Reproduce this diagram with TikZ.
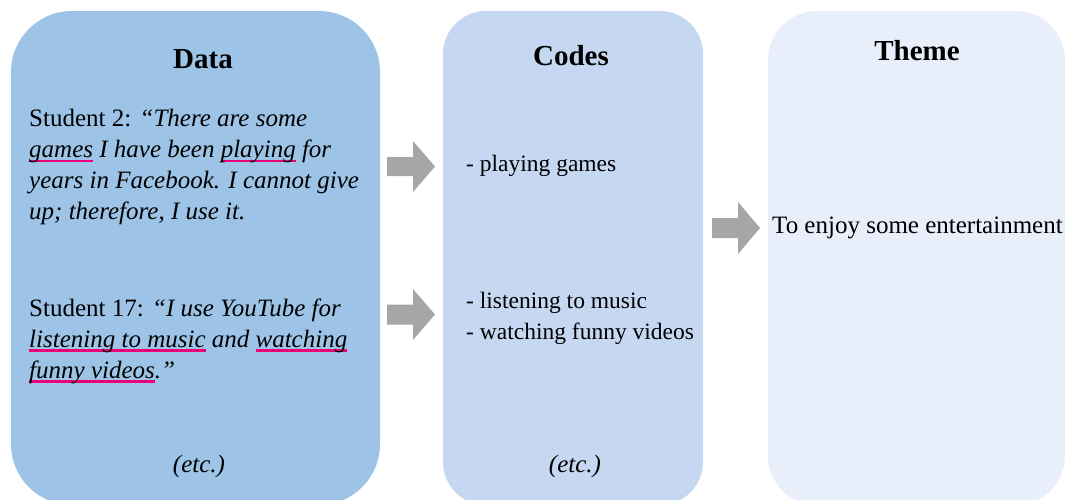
\documentclass[tikz,border=0pt]{standalone}
\usepackage{fontspec}
\setmainfont{Liberation Serif}
\definecolor{databox}{RGB}{157,195,230}
\definecolor{codebox}{RGB}{197,215,241}
\definecolor{themebox}{RGB}{232,239,250}
\definecolor{arrowgray}{RGB}{166,166,166}
\definecolor{ulpink}{RGB}{236,0,120}
\newsavebox\pinkulbox
\newcommand\pinkul[1]{\sbox\pinkulbox{#1}\rlap{\textcolor{ulpink}{\rule[-4.6pt]{\wd\pinkulbox}{2.2pt}}}\usebox\pinkulbox}
\begin{document}
\begin{tikzpicture}[x=1pt,y=-1pt,
  panel/.style={draw=none, rectangle, inner sep=0pt, minimum height=494pt},
  title/.style={font=\fontsize{29}{34}\selectfont\bfseries, anchor=base, inner sep=0pt},
  body/.style={font=\fontsize{25}{31}\selectfont, anchor=base west, inner sep=0pt},
  codetxt/.style={font=\fontsize{23.5}{31}\selectfont, anchor=base west, inner sep=0pt},
  etc/.style={font=\fontsize{25}{31}\selectfont\itshape, anchor=base, inner sep=0pt},
  blockarrow/.style={fill=arrowgray, draw=none}]
\useasboundingbox (0,0) rectangle (1065,499);
\clip (0,0) rectangle (1065,499);
% panels
\node[panel, fill=databox, minimum width=369pt, rounded corners=61pt] (data) at (195.5,258) {};
\node[panel, fill=codebox, minimum width=260pt, rounded corners=43pt] (codes) at (573,258) {};
\node[panel, fill=themebox, minimum width=297pt, rounded corners=49pt] (theme) at (916.5,258) {};
% titles
\node[title] (tdata) at (203,68) {Data};
\node[title] (tcodes) at (571,65) {Codes};
\node[title] (ttheme) at (917,60) {Theme};
% data text
\node[body] (d1) at (29,126.5) {Student 2: \textit{“There are some}};
\node[body] (d2) at (29,157.5) {\textit{\pinkul{games} I have been \pinkul{playing} for}};
\node[body] (d3) at (29,188.5) {\textit{years in Facebook. I cannot give}};
\node[body] (d4) at (29,219.5) {\textit{up; therefore, I use it.}};
\node[body] (d5) at (29,316) {Student 17: \textit{“I use YouTube for}};
\node[body] (d6) at (29,347) {\textit{\pinkul{listening to music} and \pinkul{watching}}};
\node[body] (d7) at (29,378) {\textit{\pinkul{funny videos}.”}};
\node[etc] (detc) at (199,472) {(etc.)};
% codes text
\node[codetxt] (c1) at (466,171) {- playing games};
\node[codetxt] (c2) at (466,308) {- listening to music};
\node[codetxt] (c3) at (466,339.5) {- watching funny videos};
\node[etc] (cetc) at (575,472) {(etc.)};
% theme text
\node[body] (th1) at (772,233) {To enjoy some entertainment};
% block arrows
\fill[blockarrow] (387,157) -- (413,157) -- (413,141) -- (435,166.5) -- (413,192) -- (413,176) -- (387,176) -- cycle;
\fill[blockarrow] (387,304.5) -- (413,304.5) -- (413,289) -- (435,314.5) -- (413,340) -- (413,324.5) -- (387,324.5) -- cycle;
\fill[blockarrow] (712,218) -- (738,218) -- (738,202) -- (760,228) -- (738,254) -- (738,238) -- (712,238) -- cycle;
\end{tikzpicture}
\end{document}
